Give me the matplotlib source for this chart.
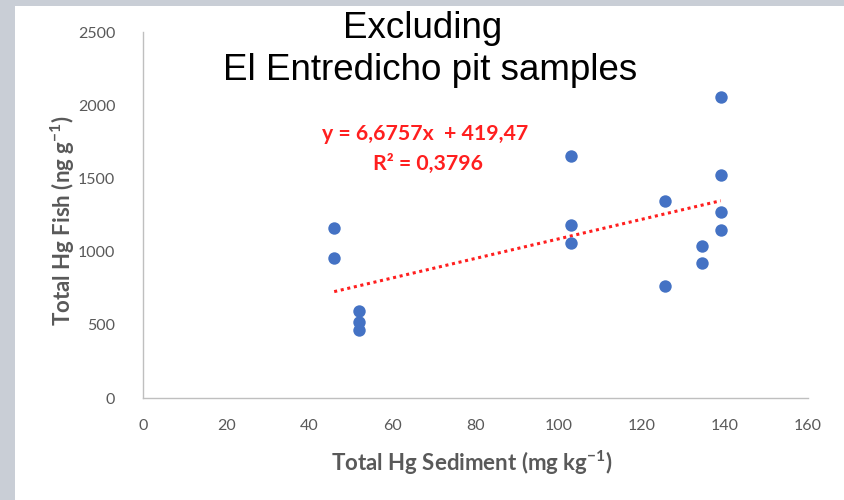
import matplotlib
matplotlib.use("Agg")
import matplotlib.pyplot as plt
import numpy as np

plt.rcParams["mathtext.fontset"] = "custom"
plt.rcParams["mathtext.rm"] = "Lato"
plt.rcParams["mathtext.bf"] = "Lato:bold"
plt.rcParams["mathtext.default"] = "regular"

# Data
sediment = [46, 46, 52, 52, 52, 103, 103, 103, 125.5, 125.5, 134.5, 134.5, 139, 139, 139, 139]
fish = [1158, 958, 593, 520, 462, 1651, 1182, 1060, 1345, 768, 1039, 919, 2058, 1522, 1273, 1146]
slope = 6.6757
intercept = 419.47
eq_text = "y = 6,6757x  + 419,47"
r2_text = "R² = 0,3796"
title_lines = ["Excluding", "El Entredicho pit samples"]
x_ticks = [0, 20, 40, 60, 80, 100, 120, 140, 160]
y_ticks = [0, 500, 1000, 1500, 2000, 2500]

W, H = 845, 500
fig = plt.figure(figsize=(W / 100, H / 100), dpi=100)
fig.patch.set_facecolor("#c9ced6")
bg = fig.add_axes([15 / W, 0, 1 - 15 / W, 1 - 6 / H])
bg.set_facecolor("white")
bg.set_xticks([]); bg.set_yticks([])
for s in bg.spines.values():
    s.set_visible(False)

ax = fig.add_axes([143 / W, 1 - 398 / H, (808 - 143) / W, (398 - 32) / H])
ax.set_facecolor("none")
ax.scatter(sediment, fish, s=80, color="#4472C4", zorder=3, linewidths=0)
xs = np.array([min(sediment), max(sediment)])
ax.plot(xs, slope * xs + intercept, color="#FF1F1F", linestyle=(0, (1, 1.2)), linewidth=2.2, zorder=2)

ax.set_xlim(0, 160)
ax.set_ylim(0, 2500)
ax.set_xticks(x_ticks)
ax.set_yticks(y_ticks)
ax.tick_params(length=0, labelsize=11.5, labelcolor="#595959")
for lab in ax.get_xticklabels() + ax.get_yticklabels():
    lab.set_family("Lato")
ax.tick_params(axis="x", pad=15)
ax.tick_params(axis="y", pad=20)
for side in ["top", "right"]:
    ax.spines[side].set_visible(False)
for side in ["left", "bottom"]:
    ax.spines[side].set_color("#bfbfbf")
    ax.spines[side].set_linewidth(1)

fig.text(63 / W, 1 - 221 / H, "Total Hg Fish (ng g$^{-1}$)", rotation=90, ha="center", va="center",
         fontsize=16, fontweight="bold", color="#595959", family="Lato")
fig.text(472 / W, 1 - 463 / H, "Total Hg Sediment (mg kg$^{-1}$)", ha="center", va="center",
         fontsize=16, fontweight="bold", color="#595959", family="Lato")

fig.text(423 / W, 1 - 29 / H, title_lines[0], ha="center", va="center", fontsize=26.5,
         family="Liberation Sans", color="black")
fig.text(430 / W, 1 - 71 / H, title_lines[1], ha="center", va="center", fontsize=26.5,
         family="Liberation Sans", color="black")

fig.text(425 / W, 1 - 134 / H, eq_text, ha="center", va="center", fontsize=15.3,
         fontweight="bold", color="#FF1F1F", family="Lato")
fig.text(428 / W, 1 - 164 / H, r2_text, ha="center", va="center", fontsize=15.3,
         fontweight="bold", color="#FF1F1F", family="Lato")

fig.savefig("out.png", dpi=100)
